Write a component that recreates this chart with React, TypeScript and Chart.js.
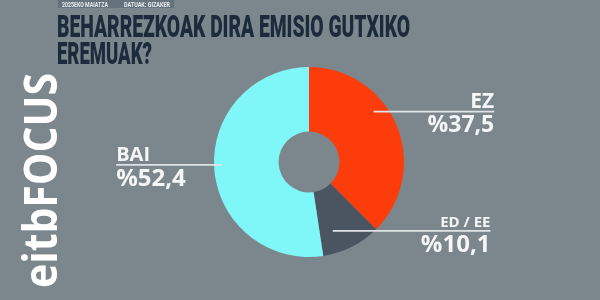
import React, { useEffect, useRef } from "react";
import { Chart, registerables } from "chart.js";

Chart.register(...registerables);

// Survey answers
const categories = ["EZ", "ED / EE", "BAI"];
const shares = [37.5, 10.1, 52.4];
const valueLabels = ["%37,5", "%10,1", "%52,4"];
const sliceColors = ["#fc3d0b", "#4b5461", "#7ff6f8"];

const titleLines = ["BEHARREZKOAK DIRA EMISIO GUTXIKO", "EREMUAK?"];
const tagDate = "2025EKO MAIATZA";
const tagSource = "DATUAK: GIZAKER";
const brand = "eitbFOCUS";

const BG = "#7b878d";

// Callout layout per slice, relative to the doughnut centre, in units of its outer radius
const callouts = [
  { side: "right", lineY: -0.53, x0: 0.68, x1: 1.95, nameSize: 21, valueSize: 23 },
  { side: "right", lineY: 0.725, x0: 0.25, x1: 1.91, nameSize: 15, valueSize: 24 },
  { side: "left", lineY: 0.03, x0: -0.91, x1: -2.03, nameSize: 20, valueSize: 24 },
];

const decorPlugin = {
  id: "decor",
  beforeDraw(chart: any) {
    const ctx = chart.ctx as CanvasRenderingContext2D;
    ctx.save();
    ctx.fillStyle = BG;
    ctx.fillRect(0, 0, chart.width, chart.height);

    // top tag
    ctx.fillStyle = "#66737d";
    ctx.fillRect(58, 0, 116, 8);
    ctx.fillStyle = "#e9edf0";
    ctx.font = "bold 8px Roboto, sans-serif";
    ctx.textBaseline = "alphabetic";
    ctx.textAlign = "left";
    ctx.fillText(tagDate, 62, 7, 46);
    ctx.fillText(tagSource, 124, 7, 46);

    // title
    ctx.fillStyle = "#1d2a3b";
    ctx.font = "900 31px Roboto, sans-serif";
    ctx.fillText(titleLines[0], 57, 37, 353);
    ctx.fillText(titleLines[1], 57, 64, 95);

    // vertical brand mark
    ctx.translate(57, 288);
    ctx.rotate(-Math.PI / 2);
    ctx.fillStyle = "#ffffff";
    ctx.font = "bold 46px 'Open Sans', sans-serif";
    ctx.fillText(brand, 0, 0, 215);
    ctx.restore();
  },
  afterDraw(chart: any) {
    const ctx = chart.ctx as CanvasRenderingContext2D;
    const meta = chart.getDatasetMeta(0);
    const arc0 = meta.data[0] as any;
    if (!arc0) return;
    const cx = arc0.x;
    const cy = arc0.y;
    const R = arc0.outerRadius;
    ctx.save();
    callouts.forEach((c, i) => {
      const y = cy + c.lineY * R;
      const xa = cx + c.x0 * R;
      const xb = cx + c.x1 * R;
      ctx.strokeStyle = "#dfe4e6";
      ctx.lineWidth = 1.6;
      ctx.beginPath();
      ctx.moveTo(xa, y);
      ctx.lineTo(xb, y);
      ctx.stroke();
      const tx = c.side === "right" ? Math.max(xa, xb) : Math.min(xa, xb);
      ctx.textAlign = c.side === "right" ? "right" : "left";
      ctx.fillStyle = "#f4f6f7";
      ctx.textBaseline = "alphabetic";
      ctx.font = `bold ${c.nameSize}px 'Open Sans', sans-serif`;
      ctx.fillText(categories[i], tx, y - 4);
      ctx.font = `bold ${c.valueSize}px 'Open Sans', sans-serif`;
      ctx.fillText(valueLabels[i], tx, y + 4 + c.valueSize * 0.72);
    });
    ctx.restore();
  },
};

export default function App() {
  const ref = useRef<HTMLCanvasElement>(null);
  useEffect(() => {
    document.body.style.margin = "0";
    const chart = new Chart(ref.current!, {
      type: "doughnut",
      data: {
        labels: categories,
        datasets: [
          {
            data: shares,
            backgroundColor: sliceColors,
            borderWidth: 0,
          },
        ],
      },
      options: {
        animation: false,
        responsive: false,
        cutout: "32%",
        rotation: 0,
        layout: { padding: { left: 214, right: 196, top: 67, bottom: 43 } },
        plugins: {
          legend: { display: false },
          tooltip: { enabled: false },
        },
      },
      plugins: [decorPlugin],
    });
    return () => chart.destroy();
  }, []);
  return (
    <div style={{ width: 600, height: 300, background: BG }}>
      <canvas ref={ref} width={600} height={300} />
    </div>
  );
}
